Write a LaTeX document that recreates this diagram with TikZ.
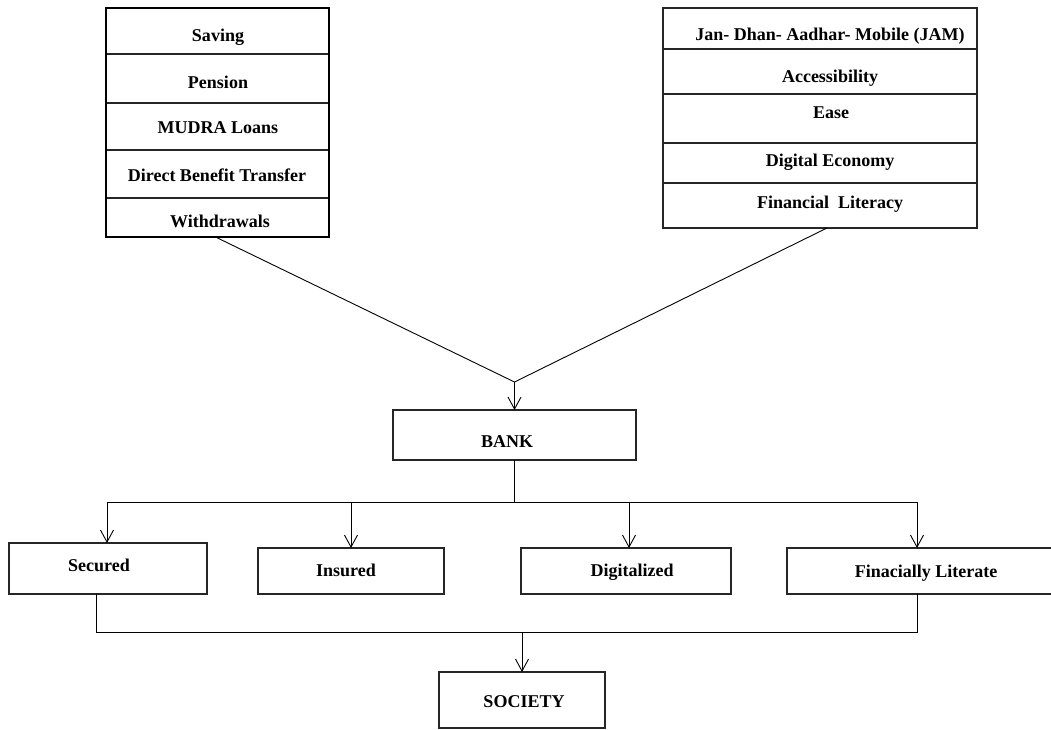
\documentclass[tikz,border=0pt]{standalone}
\usepackage{fontspec}
\setmainfont{Liberation Serif}
\usetikzlibrary{arrows.meta}
\begin{document}
\begin{tikzpicture}[x=1pt,y=-1pt,
  box/.style={draw=black!85,line width=1.1pt,rectangle,inner sep=0pt,outer sep=0pt,anchor=north west},
  frame/.style={draw=black,line width=1.6pt},
  txt/.style={font=\fontsize{18}{20}\selectfont\bfseries,inner sep=0pt,text height=12pt,text depth=0pt,anchor=center},
  link/.style={line width=0.9pt,draw=black},
  arr/.style={link,-{Straight Barb[length=12pt,width=13pt,line width=0.9pt]}}]
\useasboundingbox (0,0) rectangle (1051,729);
% left stack
\node[box,minimum width=223pt,minimum height=46pt] (l1) at (106,8) {};
\node[box,minimum width=223pt,minimum height=49pt] (l2) at (106,54) {};
\node[box,minimum width=223pt,minimum height=47pt] (l3) at (106,103) {};
\node[box,minimum width=223pt,minimum height=48pt] (l4) at (106,150) {};
\node[box,minimum width=223pt,minimum height=39pt] (l5) at (106,198) {};
\draw[frame] (l1.north west) rectangle (l5.south east);
\node[txt] (tl1) at (218,35) {Saving};
\node[txt] (tl2) at (218,82) {Pension};
\node[txt] (tl3) at (218,127) {MUDRA Loans};
\node[txt] (tl4) at (217,175) {Direct Benefit Transfer};
\node[txt] (tl5) at (220,221) {Withdrawals};
% right stack
\node[box,minimum width=314pt,minimum height=41pt] (r1) at (663,8) {};
\node[box,minimum width=314pt,minimum height=45pt] (r2) at (663,49) {};
\node[box,minimum width=314pt,minimum height=49pt] (r3) at (663,94) {};
\node[box,minimum width=314pt,minimum height=40pt] (r4) at (663,143) {};
\node[box,minimum width=314pt,minimum height=45pt] (r5) at (663,183) {};
\draw[box,line width=1.3pt] (r1.north west) rectangle (r5.south east);
\node[txt] (tr1) at (830,34) {Jan- Dhan- Aadhar- Mobile (JAM)};
\node[txt] (tr2) at (830,76) {Accessibility};
\node[txt] (tr3) at (831,112) {Ease};
\node[txt] (tr4) at (830,160) {Digital Economy};
\node[txt] (tr5) at (830,202) {Financial~~Literacy};
% bank
\node[box,minimum width=243pt,minimum height=50pt] (bank) at (393,410) {};
\node[txt] (tbank) at (507,441) {BANK};
\coordinate (j) at ([yshift=28pt]bank.north);
\draw[link] ([xshift=-2pt]l5.south) -- (j) -- ([xshift=7pt]r5.south);
\draw[arr] (j) -- (bank.north);
% second level
\node[box,minimum width=198pt,minimum height=51pt] (sec) at (9,543) {};
\node[box,minimum width=186pt,minimum height=46pt] (ins) at (258,548) {};
\node[box,minimum width=210pt,minimum height=46pt] (dig) at (521,548) {};
\node[box,minimum width=280pt,minimum height=46pt] (fin) at (787,548) {};
\node[txt] (tsec) at (99,565) {Secured};
\node[txt] (tins) at (346,570) {Insured};
\node[txt] (tdig) at (632,570) {Digitalized};
\node[txt] (tfin) at (926,571) {Finacially Literate};
\coordinate (bus) at ([yshift=-42pt]bank.south);
\coordinate (b1) at (107,502);
\coordinate (b4) at (917,502);
\draw[link] (bank.south) -- (bus);
\draw[link] (b1) -- (b4);
\draw[arr] (b1) -- (b1 |- sec.north);
\draw[arr] (ins.north |- bus) -- (ins.north);
\draw[arr] ([xshift=3pt]dig.north |- bus) -- ([xshift=3pt]dig.north);
\draw[arr] (b4) -- (b4 |- fin.north);
% society
\node[box,minimum width=166pt,minimum height=56pt] (soc) at (439,672) {};
\node[txt] (tsoc) at (524,701) {SOCIETY};
\coordinate (s1) at (96,632);
\coordinate (s2) at (917,632);
\draw[link] (s1 |- sec.south) -- (s1) -- (s2) -- (s2 |- fin.south);
\draw[arr] (soc.north |- s1) -- (soc.north);
\end{tikzpicture}
\end{document}
